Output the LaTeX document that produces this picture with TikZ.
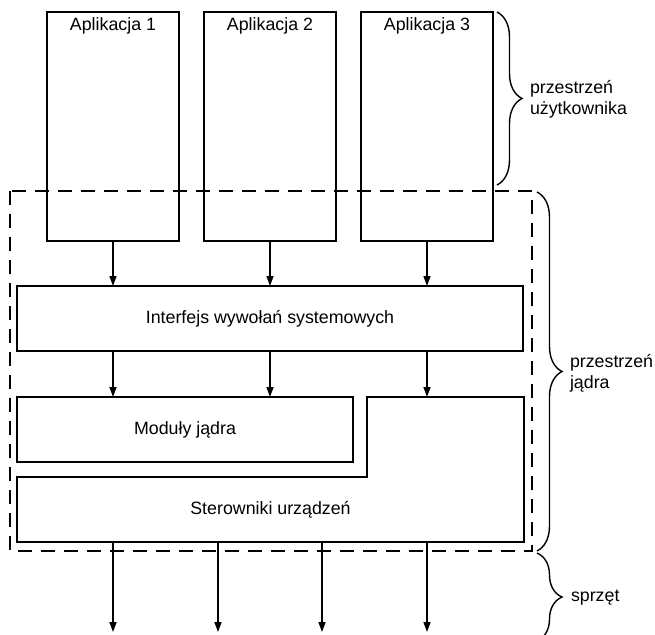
\documentclass[tikz,border=0pt]{standalone}
\usepackage{fontspec}
\setmainfont{Liberation Sans}
\usetikzlibrary{arrows.meta,decorations.pathreplacing}
\tikzset{
  every node/.style={font=\fontsize{17.8}{21.4}\selectfont},
  box/.style={draw, line width=1.5pt, rectangle, inner sep=0pt, outer sep=0pt, anchor=north west},
  txt/.style={inner sep=0pt, outer sep=0pt},
  arr/.style={line width=1.5pt, -{Triangle[length=10pt,width=7pt]}},
  dashbox/.style={draw, line width=1.5pt, dash pattern=on 14pt off 9pt},
  brc/.style={line width=1.4pt, decoration={brace, amplitude=25pt}, decorate},
}
\begin{document}
\begin{tikzpicture}[x=1pt,y=-1pt]
\useasboundingbox (0,0) rectangle (655,634);
\clip (0,0) rectangle (655,634);
% dashed kernel space
\draw[dashbox] (10,191) rectangle (532,551);
% applications
\node[box, minimum width=132pt, minimum height=229pt] (app1) at (47,12) {};
\node[box, minimum width=132pt, minimum height=229pt] (app2) at (204,12) {};
\node[box, minimum width=132pt, minimum height=229pt] (app3) at (361,12) {};
\node[txt, anchor=base] (t1) at ([yshift=-19pt]app1.north) {Aplikacja 1};
\node[txt, anchor=base] (t2) at ([yshift=-19pt]app2.north) {Aplikacja 2};
\node[txt, anchor=base] (t3) at ([yshift=-19pt]app3.north) {Aplikacja 3};
% interface
\node[box, minimum width=506pt, minimum height=65pt] (iface) at (17,286) {};
\node[txt] (ifacet) at (iface.center) {Interfejs wywołań systemowych};
% modules
\node[box, minimum width=336pt, minimum height=65pt] (mod) at (17,397) {};
\node[txt] (modt) at (mod.center) {Moduły jądra};
% device drivers (L-shape)
\draw[line width=1.5pt] (17,477) -- (367,477) -- (367,397) -- (524,397) -- (524,542) -- (17,542) -- cycle;
\node[txt, minimum width=507pt, minimum height=65pt, anchor=north west] (ster) at (17,477) {};
\node[txt] (stert) at (ster.center) {Sterowniki urządzeń};
\coordinate (sterTop) at (427,397);
% arrows apps -> interface
\draw[arr] (app1.south) -- (app1.south |- iface.north);
\draw[arr] (app2.south) -- (app2.south |- iface.north);
\draw[arr] (app3.south) -- (app3.south |- iface.north);
% arrows interface -> modules / drivers
\draw[arr] (iface.south -| app1.south) -- (app1.south |- mod.north);
\draw[arr] (iface.south -| app2.south) -- (app2.south |- mod.north);
\draw[arr] (iface.south -| sterTop) -- (sterTop);
% arrows drivers -> hardware
\coordinate (hw1) at (113,632);
\coordinate (hw2) at (218,632);
\coordinate (hw3) at (322,632);
\coordinate (hw4) at (427,632);
\draw[arr] (ster.south -| hw1) -- (hw1);
\draw[arr] (ster.south -| hw2) -- (hw2);
\draw[arr] (ster.south -| hw3) -- (hw3);
\draw[arr] (ster.south -| hw4) -- (hw4);
% braces
\coordinate (b1a) at (497,12);
\coordinate (b1b) at (497,185);
\coordinate (b2a) at (537,192);
\coordinate (b2b) at (537,551);
\coordinate (b3a) at (537,553);
\coordinate (b3b) at (537,641);
\draw[brc] (b1a) -- (b1b);
\draw[brc] (b2a) -- (b2b);
\draw[brc] (b3a) -- (b3b);
\node[txt, anchor=west, align=left] (l1) at (530,99) {przestrzeń\\użytkownika};
\node[txt, anchor=west, align=left] (l2) at (570,373) {przestrzeń\\jądra};
\node[txt, anchor=west] (l3) at (571,598) {sprzęt};
\end{tikzpicture}
\end{document}
